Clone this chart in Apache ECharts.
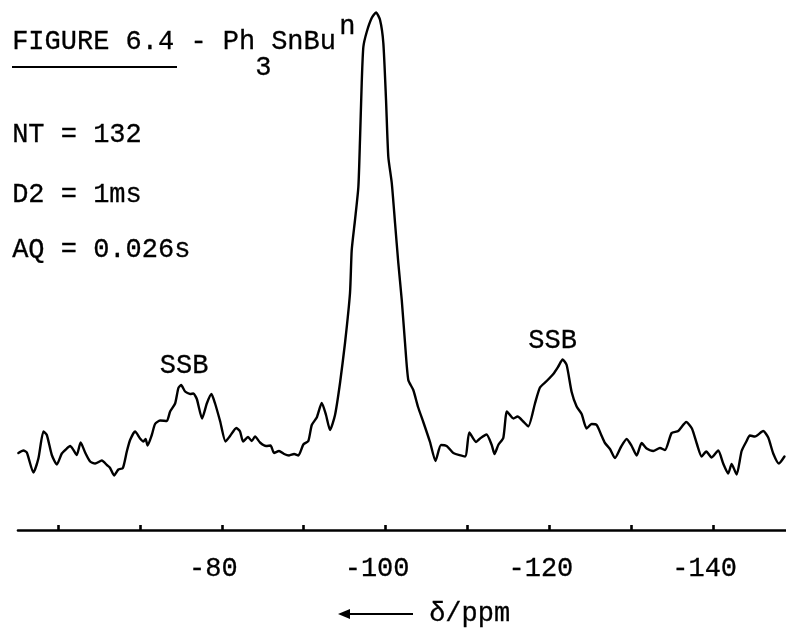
<!DOCTYPE html>
<html>
<head>
<meta charset="utf-8">
<script src="https://cdn.jsdelivr.net/npm/echarts@6/dist/echarts.min.js"></script>
<style>
  html, body { margin: 0; padding: 0; background: #fff; }
  #chart { width: 786px; height: 630px; }
</style>
</head>
<body>
<div id="chart"></div>
<script>
// 119Sn spectrum of Ph3SnBu(n): chemical shift (ppm) and intensity (arbitrary units)
const shiftPpm = [
  -55.15, -55.76, -56.18, -56.98, -57.59, -58.21, -58.62, -59.23, -59.84, -60.45,
  -61.06, -61.47, -61.87, -62.28, -62.75, -63.30, -63.91, -64.52, -65.34, -65.95,
  -66.35, -66.84, -67.36, -67.91, -68.39, -68.79, -69.40, -70.01, -70.42, -70.68,
  -70.93, -71.44, -71.84, -72.45, -73.27, -73.68, -74.29, -74.69, -75.02, -75.51,
  -76.12, -76.52, -76.94, -77.58, -78.16, -78.72, -79.17, -79.78, -80.45, -81.00,
  -81.77, -82.22, -82.59, -83.20, -83.65, -84.05, -84.66, -85.40, -85.95, -86.37,
  -86.98, -87.60, -88.21, -88.82, -89.34, -89.95, -90.56, -90.98, -91.59, -92.20,
  -92.72, -93.21, -93.82, -94.43, -95.04, -95.65, -95.86, -96.26, -96.67, -96.87,
  -97.08, -97.28, -97.69, -98.30, -98.83, -99.32, -99.72, -100.05, -100.33, -100.75,
  -101.15, -101.55, -101.97, -102.37, -102.77, -103.38, -103.96, -104.60, -105.42, -106.09,
  -106.76, -107.46, -108.27, -109.70, -110.22, -111.04, -111.53, -112.32, -112.96, -113.30,
  -113.76, -114.37, -114.82, -115.62, -116.11, -116.81, -117.42, -118.24, -118.85, -119.67,
  -120.48, -121.09, -121.62, -122.11, -122.72, -123.33, -123.94, -124.55, -125.17, -125.78,
  -126.39, -126.79, -127.40, -128.01, -128.74, -129.44, -130.05, -130.66, -131.27, -131.88,
  -132.69, -133.50, -134.12, -134.93, -135.74, -136.72, -137.41, -138.02, -138.60, -139.16,
  -139.82, -140.62, -141.23, -141.84, -142.26, -142.87, -143.48, -144.09, -144.49, -145.10,
  -146.12, -146.73, -147.34, -148.03, -148.71
];
const intensity = [
  15.4, 15.9, 15.5, 11.5, 14.3, 19.7, 19.0, 15.0, 13.1, 15.3,
  16.3, 16.8, 16.0, 15.0, 17.5, 15.5, 13.7, 13.3, 13.9, 13.0,
  12.4, 10.9, 12.1, 12.4, 15.7, 18.0, 19.7, 18.3, 17.7, 18.2,
  16.9, 19.0, 21.2, 21.9, 21.8, 23.7, 25.3, 28.4, 29.0, 27.7,
  27.2, 27.3, 26.2, 22.3, 25.3, 27.2, 25.3, 21.8, 17.7, 18.8,
  20.4, 19.7, 17.7, 18.6, 17.8, 18.7, 17.5, 16.8, 16.9, 15.4,
  15.8, 15.2, 14.9, 15.2, 14.9, 17.1, 17.8, 21.0, 22.5, 25.4,
  23.0, 20.0, 23.0, 29.4, 37.4, 47.4, 56.0, 62.0, 68.6, 78.0,
  89.4, 96.6, 99.6, 102.4, 103.5, 102.0, 97.4, 86.0, 74.6, 69.4,
  61.4, 53.4, 46.0, 37.4, 30.0, 28.0, 24.6, 21.6, 17.6, 13.8,
  17.0, 16.8, 15.4, 14.7, 19.5, 17.6, 18.3, 19.1, 17.0, 15.2,
  17.0, 18.4, 23.7, 22.3, 22.7, 21.7, 20.7, 25.3, 28.5, 29.8,
  31.2, 32.7, 34.1, 33.0, 27.6, 24.7, 23.2, 20.3, 21.2, 21.0,
  18.8, 17.4, 16.2, 14.4, 16.6, 18.2, 16.8, 14.9, 17.4, 16.3,
  15.8, 16.4, 16.0, 19.4, 19.8, 21.6, 20.3, 17.2, 14.7, 15.7,
  14.5, 15.9, 13.3, 11.3, 13.2, 11.1, 15.8, 17.8, 18.9, 18.7,
  19.8, 18.5, 15.3, 13.3, 14.7
];
// axis ticks every 10 ppm, labels every 20 ppm
const tickValues = [-60, -70, -80, -90, -100, -110, -120, -130, -140];
const labelValues = [-80, -100, -120, -140];
// spinning side-band annotations: shift and intensity at the band top
const sideBands = [
  { name: 'SSB', ppm: -75.02, top: 29.0 },
  { name: 'SSB', ppm: -121.62, top: 34.1 }
];

const FONT = '"Liberation Mono", "DejaVu Sans Mono", monospace';
const chart = echarts.init(document.getElementById('chart'), null, { renderer: 'canvas' });

const lineData = shiftPpm.map((p, i) => [p, intensity[i]]);

// typewriter-style text: thin outline in the fill colour gives a slightly heavier stroke
function typed(text, left, top, size) {
  return {
    type: 'text', left: left, top: top,
    style: { text: text, font: (size || 27) + 'px ' + FONT, fill: '#000', stroke: '#000', lineWidth: 0.3 }
  };
}

chart.setOption({
  animation: false,
  backgroundColor: '#ffffff',
  grid: { left: 18, right: 0, top: 0, bottom: 100 },
  xAxis: {
    type: 'value',
    min: -148.9,
    max: -55.1,
    inverse: true,
    axisLine: { show: true, lineStyle: { color: '#000', width: 2.6 } },
    axisTick: {
      show: true, inside: true, length: 5,
      customValues: tickValues,
      lineStyle: { color: '#000', width: 2.6 }
    },
    axisLabel: {
      customValues: labelValues,
      color: '#000',
      fontFamily: FONT,
      fontSize: 27,
      margin: 25,
      padding: [0, 17, 0, 0],
      textBorderColor: '#000',
      textBorderWidth: 0.3
    },
    splitLine: { show: false }
  },
  yAxis: { type: 'value', min: 0, max: 106, show: false, splitLine: { show: false } },
  series: [
    {
      type: 'line',
      data: lineData,
      symbol: 'none',
      smooth: 0.2,
      clip: false,
      lineStyle: { color: '#000', width: 2.4, join: 'round', cap: 'round' },
      markPoint: {
        symbol: 'rect',
        symbolSize: 1,
        itemStyle: { color: 'rgba(0,0,0,0)' },
        label: {
          show: true,
          formatter: p => p.name,
          position: 'top',
          distance: 5,
          color: '#000',
          fontFamily: FONT,
          fontSize: 27,
          textBorderColor: '#000',
          textBorderWidth: 0.3
        },
        data: [
          { name: sideBands[0].name, coord: [sideBands[0].ppm, sideBands[0].top], label: { offset: [3, 0] } },
          { name: sideBands[1].name, coord: [sideBands[1].ppm, sideBands[1].top], label: { offset: [-10, 0] } }
        ]
      }
    }
  ],
  graphic: [
    typed('FIGURE 6.4 - Ph', 12, 28),
    typed('3', 255, 54),
    typed('SnBu', 271, 28),
    typed('n', 339, 13),
    { type: 'line', shape: { x1: 12, y1: 67, x2: 177, y2: 67 }, style: { stroke: '#000', lineWidth: 2 } },
    typed('NT = 132', 12, 121),
    typed('D2 = 1ms', 12, 181),
    typed('AQ = 0.026s', 12, 236),
    // direction-of-shift arrow under the axis
    { type: 'line', shape: { x1: 344, y1: 614, x2: 413, y2: 614 }, style: { stroke: '#000', lineWidth: 2.2 } },
    { type: 'polygon', shape: { points: [[338, 614], [350, 609], [350, 619]] }, style: { fill: '#000' } },
    typed('δ/ppm', 429, 600)
  ]
});
</script>
</body>
</html>
